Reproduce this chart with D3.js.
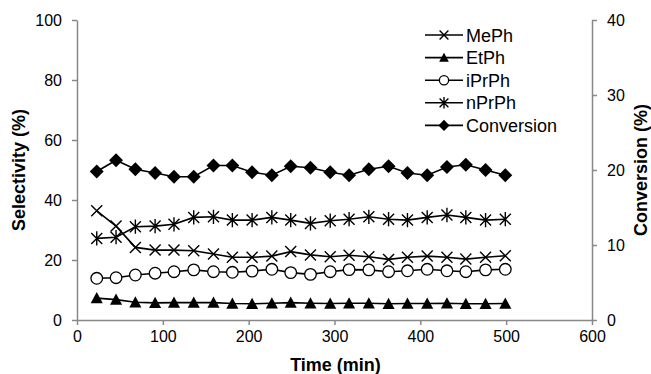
<!DOCTYPE html>
<html>
<head>
<meta charset="utf-8">
<script src="https://cdn.jsdelivr.net/npm/d3@7"></script>
<style>
  body { margin: 0; background: #fff; }
  svg { font-family: "Liberation Sans", Arial, sans-serif; }
</style>
</head>
<body>
<svg id="chart" width="651" height="374"></svg>
<script>
// data
var time = [23, 45.5, 68, 91, 113, 136, 159, 181, 204, 227, 249, 272, 295, 317, 340, 363, 385, 408, 431, 453, 476, 499];
var mePh = [36.4, 31.3, 24.2, 23.3, 23.3, 23.1, 22.0, 20.9, 20.9, 21.3, 22.8, 21.7, 21.1, 21.6, 21.1, 20.2, 20.9, 21.3, 20.9, 20.3, 20.9, 21.4];
var etPh = [7.3, 6.8, 5.9, 5.7, 5.8, 5.8, 5.8, 5.5, 5.4, 5.6, 5.8, 5.6, 5.5, 5.6, 5.6, 5.4, 5.5, 5.5, 5.6, 5.4, 5.4, 5.5];
var iPrPh = [13.9, 14.1, 15.0, 15.6, 16.1, 16.7, 16.1, 15.9, 16.3, 16.9, 15.8, 15.2, 16.1, 16.8, 16.7, 16.1, 16.4, 16.9, 16.4, 16.1, 16.7, 16.9];
var nPrPh = [27.2, 27.6, 31.1, 31.3, 31.9, 34.2, 34.4, 33.3, 33.3, 34.2, 33.3, 32.2, 33.1, 33.6, 34.4, 33.6, 33.3, 34.2, 35.0, 34.2, 33.3, 33.6];
var conversion = [19.8, 21.3, 20.1, 19.6, 19.1, 19.1, 20.6, 20.6, 19.7, 19.3, 20.5, 20.3, 19.7, 19.3, 20.1, 20.5, 19.6, 19.3, 20.4, 20.7, 20.0, 19.3];

var xTicks = [0, 100, 200, 300, 400, 500, 600];
var leftTicks = [0, 20, 40, 60, 80, 100];
var rightTicks = [0, 10, 20, 30, 40];

var margin = {left: 77, right: 59, top: 20, bottom: 54};
var W = 651, H = 374;

var svg = d3.select('#chart');

var x = d3.scaleLinear().domain([0, 600]).range([margin.left, W - margin.right]);
var yL = d3.scaleLinear().domain([0, 100]).range([H - margin.bottom, margin.top]);
var yR = d3.scaleLinear().domain([0, 40]).range([H - margin.bottom, margin.top]);

var axisColor = '#888';

// axes
var gx = svg.append('g')
    .attr('transform', 'translate(0,' + (H - margin.bottom) + ')')
    .call(d3.axisBottom(x).tickValues(xTicks).tickSize(5).tickSizeOuter(0).tickPadding(6));

var gl = svg.append('g')
    .attr('transform', 'translate(' + margin.left + ',0)')
    .call(d3.axisLeft(yL).tickValues(leftTicks).tickSize(5).tickSizeOuter(0).tickPadding(10));

var gr = svg.append('g')
    .attr('transform', 'translate(' + (W - margin.right) + ',0)')
    .call(d3.axisRight(yR).tickValues(rightTicks).tickSize(5).tickSizeOuter(0).tickPadding(10));

[gx, gl, gr].forEach(function(g){
  g.selectAll('path, line').attr('stroke', axisColor).attr('stroke-width', 1.5);
  g.selectAll('text')
      .attr('fill', '#000')
      .style('font-size', '16px')
      .style('font-family', '"Liberation Sans", Arial, sans-serif');
});

// titles
svg.append('text')
    .attr('x', (x(0) + x(600)) / 2 + 1)
    .attr('y', 371)
    .attr('text-anchor', 'middle')
    .style('font-size', '18px')
    .style('font-weight', 'bold')
    .text('Time (min)');

svg.append('text')
    .attr('transform', 'translate(25,' + yL(50) + ') rotate(-90)')
    .attr('text-anchor', 'middle')
    .style('font-size', '18px')
    .style('font-weight', 'bold')
    .text('Selectivity (%)');

svg.append('text')
    .attr('transform', 'translate(647,' + yL(50) + ') rotate(-90)')
    .attr('text-anchor', 'middle')
    .style('font-size', '18px')
    .style('font-weight', 'bold')
    .text('Conversion (%)');

// marker shapes
var markers = {
  times: function(g, s){
    g.append('path').attr('d', 'M' + (-s) + ',' + (-s) + 'L' + s + ',' + s + 'M' + (-s) + ',' + s + 'L' + s + ',' + (-s))
        .attr('stroke', '#000').attr('stroke-width', 1.4).attr('fill', 'none');
  },
  triangle: function(g, s){
    g.append('path').attr('d', 'M0,' + (-s * 1.1) + 'L' + (s * 1.1) + ',' + (s * 0.95) + 'L' + (-s * 1.1) + ',' + (s * 0.95) + 'Z')
        .attr('fill', '#000');
  },
  circle: function(g, s){
    g.append('circle').attr('r', s).attr('fill', '#fff').attr('stroke', '#000').attr('stroke-width', 1.3);
  },
  asterisk: function(g, s){
    g.append('path').attr('d', 'M' + (-s) + ',' + (-s) + 'L' + s + ',' + s + 'M' + (-s) + ',' + s + 'L' + s + ',' + (-s) + 'M0,' + (-s * 1.3) + 'L0,' + (s * 1.3))
        .attr('stroke', '#000').attr('stroke-width', 1.4).attr('fill', 'none');
  },
  diamond: function(g, s){
    var d = s * 1.2;
    g.append('path').attr('d', 'M0,' + (-d) + 'L' + d + ',0L0,' + d + 'L' + (-d) + ',0Z').attr('fill', '#000');
  }
};

var series = [
  {name: 'MePh', values: mePh, y: yL, marker: 'times', size: 5.5},
  {name: 'EtPh', values: etPh, y: yL, marker: 'triangle', size: 5.5},
  {name: 'iPrPh', values: iPrPh, y: yL, marker: 'circle', size: 5.8},
  {name: 'nPrPh', values: nPrPh, y: yL, marker: 'asterisk', size: 5.5},
  {name: 'Conversion', values: conversion, y: yR, marker: 'diamond', size: 5.8}
];

series.forEach(function(s){
  var pts = time.map(function(t, i){ return [t, s.values[i]]; });
  var line = d3.line()
      .x(function(d){ return x(d[0]); })
      .y(function(d){ return s.y(d[1]); });

  svg.append('path')
      .datum(pts)
      .attr('d', line)
      .attr('fill', 'none')
      .attr('stroke', '#000')
      .attr('stroke-width', 1.6);

  svg.append('g').selectAll('g')
      .data(pts)
      .enter().append('g')
      .attr('transform', function(d){ return 'translate(' + x(d[0]) + ',' + s.y(d[1]) + ')'; })
      .each(function(){ markers[s.marker](d3.select(this), s.size); });
});

// legend
var legend = svg.append('g').attr('transform', 'translate(425,35)');
var rows = legend.selectAll('g')
    .data(series)
    .enter().append('g')
    .attr('transform', function(d, i){ return 'translate(0,' + (i * 22.6) + ')'; });

rows.append('line')
    .attr('x1', 0).attr('x2', 38)
    .attr('stroke', '#000').attr('stroke-width', 1.6);

rows.append('g')
    .attr('transform', 'translate(19,0)')
    .each(function(d){ markers[d.marker](d3.select(this), d.size * 0.8); });

rows.append('text')
    .attr('x', 41)
    .attr('y', 6.5)
    .style('font-size', '18px')
    .text(function(d){ return d.name; });
</script>
</body>
</html>
